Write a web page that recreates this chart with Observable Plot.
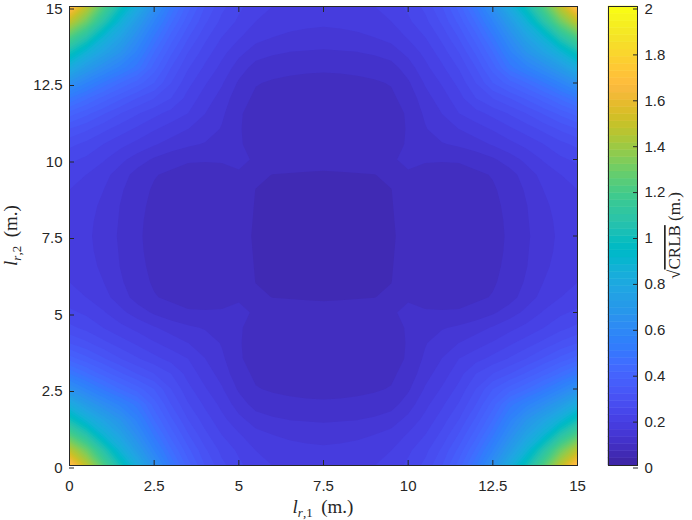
<!DOCTYPE html>
<html><head><meta charset="utf-8">
<script src="https://cdn.jsdelivr.net/npm/d3@7"></script>
<script src="https://cdn.jsdelivr.net/npm/@observablehq/plot@0.6"></script>
<style>
body{margin:0;background:#fff;}
#wrap{position:relative;width:692px;height:520px;overflow:hidden;}
#main{position:absolute;left:0;top:0;}
#cbar{position:absolute;left:590px;top:0;}
</style></head><body><div id="wrap"><div id="main"></div><div id="cbar"></div></div>
<script>
// grid positions (m.)
const lr1 = [0,0.5,1,1.5,2,2.5,3,3.5,4,4.5,5,5.5,6,6.5,7,7.5,8,8.5,9,9.5,10,10.5,11,11.5,12,12.5,13,13.5,14,14.5,15];
const lr2 = [0,0.5,1,1.5,2,2.5,3,3.5,4,4.5,5,5.5,6,6.5,7,7.5,8,8.5,9,9.5,10,10.5,11,11.5,12,12.5,13,13.5,14,14.5,15];
// sqrt(CRLB) (m.), rows = lr2, columns = lr1
const crlb = [
[1.746,1.492,1.238,1.016,0.825,0.651,0.508,0.397,0.317,0.263,0.229,0.206,0.190,0.184,0.179,0.178,0.179,0.184,0.190,0.206,0.229,0.263,0.317,0.397,0.508,0.651,0.825,1.016,1.238,1.492,1.746],
[1.492,1.302,1.079,0.873,0.714,0.571,0.451,0.359,0.292,0.244,0.216,0.190,0.178,0.171,0.167,0.165,0.167,0.171,0.178,0.190,0.216,0.244,0.292,0.359,0.451,0.571,0.714,0.873,1.079,1.302,1.492],
[1.238,1.079,0.889,0.762,0.629,0.502,0.400,0.321,0.263,0.222,0.194,0.170,0.159,0.152,0.148,0.146,0.148,0.152,0.159,0.170,0.194,0.222,0.263,0.321,0.400,0.502,0.629,0.762,0.889,1.079,1.238],
[1.016,0.873,0.762,0.667,0.559,0.444,0.356,0.286,0.238,0.200,0.168,0.143,0.132,0.126,0.124,0.122,0.124,0.126,0.132,0.143,0.168,0.200,0.238,0.286,0.356,0.444,0.559,0.667,0.762,0.873,1.016],
[0.825,0.714,0.629,0.559,0.492,0.397,0.317,0.257,0.216,0.181,0.143,0.114,0.105,0.101,0.099,0.098,0.099,0.101,0.105,0.114,0.143,0.181,0.216,0.257,0.317,0.397,0.492,0.559,0.629,0.714,0.825],
[0.651,0.571,0.502,0.444,0.397,0.349,0.286,0.232,0.194,0.162,0.122,0.097,0.092,0.090,0.089,0.089,0.089,0.090,0.092,0.097,0.122,0.162,0.194,0.232,0.286,0.349,0.397,0.444,0.502,0.571,0.651],
[0.508,0.451,0.400,0.356,0.317,0.286,0.254,0.210,0.175,0.146,0.106,0.090,0.086,0.084,0.083,0.083,0.083,0.084,0.086,0.090,0.106,0.146,0.175,0.210,0.254,0.286,0.317,0.356,0.400,0.451,0.508],
[0.397,0.359,0.321,0.286,0.257,0.232,0.210,0.190,0.159,0.133,0.098,0.086,0.083,0.081,0.080,0.079,0.080,0.081,0.083,0.086,0.098,0.133,0.159,0.190,0.210,0.232,0.257,0.286,0.321,0.359,0.397],
[0.317,0.292,0.263,0.238,0.216,0.194,0.175,0.159,0.146,0.124,0.097,0.086,0.081,0.079,0.078,0.078,0.078,0.079,0.081,0.086,0.097,0.124,0.146,0.159,0.175,0.194,0.216,0.238,0.263,0.292,0.317],
[0.263,0.244,0.222,0.200,0.181,0.162,0.146,0.133,0.124,0.119,0.098,0.086,0.080,0.078,0.077,0.076,0.077,0.078,0.080,0.086,0.098,0.119,0.124,0.133,0.146,0.162,0.181,0.200,0.222,0.244,0.263],
[0.229,0.216,0.194,0.168,0.143,0.122,0.106,0.098,0.097,0.098,0.105,0.090,0.077,0.075,0.074,0.073,0.074,0.075,0.077,0.090,0.105,0.098,0.097,0.098,0.106,0.122,0.143,0.168,0.194,0.216,0.229],
[0.206,0.190,0.170,0.143,0.114,0.097,0.090,0.086,0.086,0.086,0.090,0.068,0.063,0.062,0.061,0.060,0.061,0.062,0.063,0.068,0.090,0.086,0.086,0.086,0.090,0.097,0.114,0.143,0.170,0.190,0.206],
[0.190,0.178,0.159,0.132,0.105,0.092,0.086,0.083,0.081,0.080,0.077,0.063,0.055,0.051,0.050,0.049,0.050,0.051,0.055,0.063,0.077,0.080,0.081,0.083,0.086,0.092,0.105,0.132,0.159,0.178,0.190],
[0.184,0.171,0.152,0.126,0.101,0.090,0.084,0.081,0.079,0.078,0.075,0.062,0.051,0.046,0.043,0.043,0.043,0.046,0.051,0.062,0.075,0.078,0.079,0.081,0.084,0.090,0.101,0.126,0.152,0.171,0.184],
[0.179,0.167,0.148,0.124,0.099,0.089,0.083,0.080,0.078,0.077,0.074,0.061,0.050,0.043,0.041,0.040,0.041,0.043,0.050,0.061,0.074,0.077,0.078,0.080,0.083,0.089,0.099,0.124,0.148,0.167,0.179],
[0.178,0.165,0.146,0.122,0.098,0.089,0.083,0.079,0.078,0.076,0.073,0.060,0.049,0.043,0.040,0.038,0.040,0.043,0.049,0.060,0.073,0.076,0.078,0.079,0.083,0.089,0.098,0.122,0.146,0.165,0.178],
[0.179,0.167,0.148,0.124,0.099,0.089,0.083,0.080,0.078,0.077,0.074,0.061,0.050,0.043,0.041,0.040,0.041,0.043,0.050,0.061,0.074,0.077,0.078,0.080,0.083,0.089,0.099,0.124,0.148,0.167,0.179],
[0.184,0.171,0.152,0.126,0.101,0.090,0.084,0.081,0.079,0.078,0.075,0.062,0.051,0.046,0.043,0.043,0.043,0.046,0.051,0.062,0.075,0.078,0.079,0.081,0.084,0.090,0.101,0.126,0.152,0.171,0.184],
[0.190,0.178,0.159,0.132,0.105,0.092,0.086,0.083,0.081,0.080,0.077,0.063,0.055,0.051,0.050,0.049,0.050,0.051,0.055,0.063,0.077,0.080,0.081,0.083,0.086,0.092,0.105,0.132,0.159,0.178,0.190],
[0.206,0.190,0.170,0.143,0.114,0.097,0.090,0.086,0.086,0.086,0.090,0.068,0.063,0.062,0.061,0.060,0.061,0.062,0.063,0.068,0.090,0.086,0.086,0.086,0.090,0.097,0.114,0.143,0.170,0.190,0.206],
[0.229,0.216,0.194,0.168,0.143,0.122,0.106,0.098,0.097,0.098,0.105,0.090,0.077,0.075,0.074,0.073,0.074,0.075,0.077,0.090,0.105,0.098,0.097,0.098,0.106,0.122,0.143,0.168,0.194,0.216,0.229],
[0.263,0.244,0.222,0.200,0.181,0.162,0.146,0.133,0.124,0.119,0.098,0.086,0.080,0.078,0.077,0.076,0.077,0.078,0.080,0.086,0.098,0.119,0.124,0.133,0.146,0.162,0.181,0.200,0.222,0.244,0.263],
[0.317,0.292,0.263,0.238,0.216,0.194,0.175,0.159,0.146,0.124,0.097,0.086,0.081,0.079,0.078,0.078,0.078,0.079,0.081,0.086,0.097,0.124,0.146,0.159,0.175,0.194,0.216,0.238,0.263,0.292,0.317],
[0.397,0.359,0.321,0.286,0.257,0.232,0.210,0.190,0.159,0.133,0.098,0.086,0.083,0.081,0.080,0.079,0.080,0.081,0.083,0.086,0.098,0.133,0.159,0.190,0.210,0.232,0.257,0.286,0.321,0.359,0.397],
[0.508,0.451,0.400,0.356,0.317,0.286,0.254,0.210,0.175,0.146,0.106,0.090,0.086,0.084,0.083,0.083,0.083,0.084,0.086,0.090,0.106,0.146,0.175,0.210,0.254,0.286,0.317,0.356,0.400,0.451,0.508],
[0.651,0.571,0.502,0.444,0.397,0.349,0.286,0.232,0.194,0.162,0.122,0.097,0.092,0.090,0.089,0.089,0.089,0.090,0.092,0.097,0.122,0.162,0.194,0.232,0.286,0.349,0.397,0.444,0.502,0.571,0.651],
[0.825,0.714,0.629,0.559,0.492,0.397,0.317,0.257,0.216,0.181,0.143,0.114,0.105,0.101,0.099,0.098,0.099,0.101,0.105,0.114,0.143,0.181,0.216,0.257,0.317,0.397,0.492,0.559,0.629,0.714,0.825],
[1.016,0.873,0.762,0.667,0.559,0.444,0.356,0.286,0.238,0.200,0.168,0.143,0.132,0.126,0.124,0.122,0.124,0.126,0.132,0.143,0.168,0.200,0.238,0.286,0.356,0.444,0.559,0.667,0.762,0.873,1.016],
[1.238,1.079,0.889,0.762,0.629,0.502,0.400,0.321,0.263,0.222,0.194,0.170,0.159,0.152,0.148,0.146,0.148,0.152,0.159,0.170,0.194,0.222,0.263,0.321,0.400,0.502,0.629,0.762,0.889,1.079,1.238],
[1.492,1.302,1.079,0.873,0.714,0.571,0.451,0.359,0.292,0.244,0.216,0.190,0.178,0.171,0.167,0.165,0.167,0.171,0.178,0.190,0.216,0.244,0.292,0.359,0.451,0.571,0.714,0.873,1.079,1.302,1.492],
[1.746,1.492,1.238,1.016,0.825,0.651,0.508,0.397,0.317,0.263,0.229,0.206,0.190,0.184,0.179,0.178,0.179,0.184,0.190,0.206,0.229,0.263,0.317,0.397,0.508,0.651,0.825,1.016,1.238,1.492,1.746]
];
const axisTicks = [0,2.5,5,7.5,10,12.5,15];
const cbarTicks = [0,0.2,0.4,0.6,0.8,1,1.2,1.4,1.6,1.8,2];
const cLimits = [0,2];
const parula = ["#3e26a8","#402ab4","#422ec0","#4332cb","#4537d5","#463cde","#4741e5","#4747eb","#484df0","#4852f4","#4758f8","#465efb","#4563fd","#4269fe","#3e6fff","#3875fe","#327cfc","#2f81fa","#2e87f7","#2d8cf3","#2b91ef","#2797eb","#259be8","#23a0e5","#20a5e3","#1ca9df","#18addb","#12b1d6","#08b5d0","#01b8ca","#02bac3","#0bbdbd","#19bfb6","#24c1ae","#2cc4a7","#31c69f","#37c897","#3fca8e","#4acb84","#57cc7a","#64cd6f","#72cd64","#81cc59","#8fcb4e","#9dc943","#abc739","#b9c431","#c5c22a","#d1bf27","#dcbd29","#e6bb2d","#f0ba36","#f8ba3d","#febe3c","#fec338","#fec934","#fccf30","#fad62d","#f7dc2a","#f5e327","#f5e924","#f6ef20","#f7f51b","#f9fb15"];

const n = parula.length;
const cmapDomain = parula.map((c, k) => cLimits[0] + k * (cLimits[1] - cLimits[0]) / (n - 1));
const levels = cmapDomain.slice(0, n - 1);
const colorScale = {type: "linear", domain: cmapDomain, range: parula, clamp: true};
const ink = "#262626";
const fmt = d => String(+d.toFixed(2));
const half = (lr1[1] - lr1[0]) / 2;

const main = Plot.plot({
  width: 600, height: 520,
  marginLeft: 69, marginRight: 23, marginTop: 6, marginBottom: 55,
  x: {domain: [lr1[0], lr1[lr1.length - 1]]},
  y: {domain: [lr2[0], lr2[lr2.length - 1]]},
  color: colorScale,
  style: {fontFamily: "'Liberation Sans', Arial, sans-serif", fontSize: "15px", color: ink, background: "white", overflow: "visible"},
  marks: [
    Plot.contour(crlb.flat(), {
      width: lr1.length, height: lr2.length,
      x1: lr1[0] - half, x2: lr1[lr1.length - 1] + half,
      y1: lr2[0] - half, y2: lr2[lr2.length - 1] + half,
      fill: Plot.identity, thresholds: levels, stroke: "none", clip: true
    }),
    Plot.frame({stroke: ink, strokeWidth: 1}),
    Plot.axisX(axisTicks, {anchor: "bottom", tickSize: -5, tickPadding: 20, tickFormat: fmt, label: null, stroke: ink, fill: ink}),
    Plot.axisX(axisTicks, {anchor: "top", tickSize: -5, tickFormat: () => "", label: null, stroke: ink}),
    Plot.axisY(axisTicks, {anchor: "left", tickSize: -5, tickPadding: 12, dy: 2.5, tickFormat: fmt, label: null, stroke: ink, fill: ink}),
    Plot.axisY(axisTicks, {anchor: "right", tickSize: -5, tickFormat: () => "", label: null, stroke: ink})
  ]
});
document.getElementById("main").appendChild(main);

// axis titles (LaTeX-like)
const sx = main.scale("x"), sy = main.scale("y");
const serif = "'Liberation Serif', 'DejaVu Serif', serif";
const msvg = d3.select(main);
function latexLabel(g, sub) {
  g.append("tspan").attr("font-style", "italic").text("l");
  g.append("tspan").attr("font-size", "13px").attr("dy", 4).attr("font-style", "italic").text("r");
  g.append("tspan").attr("font-size", "13px").text("," + sub);
  g.append("tspan").attr("dy", -4).text("\u2009 (m.)");
}
const xl = msvg.append("text")
  .attr("x", sx.apply((sx.domain[0] + sx.domain[1]) / 2)).attr("y", 513)
  .attr("text-anchor", "middle").attr("font-family", serif).attr("font-size", "19px").attr("fill", ink);
latexLabel(xl, "1");
const yl = msvg.append("text")
  .attr("transform", `translate(17,${sy.apply((sy.domain[0] + sy.domain[1]) / 2)}) rotate(-90)`)
  .attr("text-anchor", "middle").attr("font-family", serif).attr("font-size", "19px").attr("fill", ink);
latexLabel(yl, "2");

// colorbar
const cbData = parula.map((c, k) => ({
  lo: cLimits[0] + k * (cLimits[1] - cLimits[0]) / n,
  hi: cLimits[0] + (k + 1) * (cLimits[1] - cLimits[0]) / n,
  v: cmapDomain[k]
}));
const cbar = Plot.plot({
  width: 102, height: 520,
  marginLeft: 18, marginRight: 55, marginTop: 6, marginBottom: 55,
  x: {axis: null},
  y: {domain: cLimits},
  color: colorScale,
  style: {fontFamily: "'Liberation Sans', Arial, sans-serif", fontSize: "15px", color: ink, background: "white", overflow: "visible"},
  marks: [
    Plot.rectY(cbData, {y1: "lo", y2: "hi", fill: "v", stroke: "v", strokeWidth: 0.5}),
    Plot.frame({stroke: ink, strokeWidth: 1}),
    Plot.axisY(cbarTicks, {anchor: "right", tickSize: -5, tickPadding: 12, dy: 2.5, tickFormat: fmt, label: null, stroke: ink, fill: ink})
  ]
});
document.getElementById("cbar").appendChild(cbar);
const cy = cbar.scale("y");
const ct = d3.select(cbar).append("text")
  .attr("transform", `translate(90,${cy.apply((cLimits[0] + cLimits[1]) / 2)}) rotate(-90)`)
  .attr("text-anchor", "middle").attr("font-family", serif).attr("font-size", "17px").attr("fill", ink);
ct.append("tspan").text("\u221A");
ct.append("tspan").attr("text-decoration", "overline").text("CRLB");
ct.append("tspan").text(" (m.)");
</script>
</body></html>
